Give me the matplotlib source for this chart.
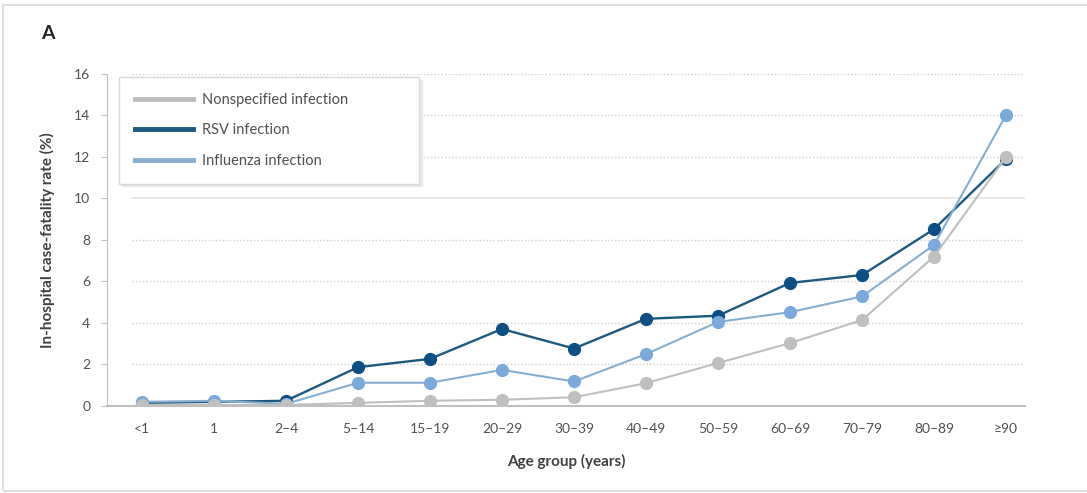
import matplotlib
matplotlib.use("Agg")
import matplotlib.pyplot as plt
from matplotlib.lines import Line2D
from matplotlib.patches import Rectangle

plt.rcParams["font.family"] = ["Lato", "DejaVu Sans"]

# Age groups and in-hospital case-fatality rates (%)
age_groups = ["<1", "1", "2\u20134", "5\u201314", "15\u201319", "20\u201329", "30\u201339",
              "40\u201349", "50\u201359", "60\u201369", "70\u201379", "80\u201389", "\u226590"]
cfr_nonspecified = [0.05, 0.05, 0.05, 0.15, 0.25, 0.3, 0.42, 1.1, 2.07, 3.03, 4.14, 7.2, 12.0]
cfr_rsv = [0.15, 0.2, 0.25, 1.87, 2.27, 3.71, 2.77, 4.2, 4.35, 5.93, 6.31, 8.52, 11.9]
cfr_influenza = [0.2, 0.25, 0.1, 1.12, 1.12, 1.74, 1.18, 2.5, 4.05, 4.52, 5.28, 7.76, 14.02]
y_ticks = [0, 2, 4, 6, 8, 10, 12, 14, 16]

C_NONSPEC = "#bfbfbf"
C_RSV_LINE = "#1b5a7e"
C_RSV_MARK = "#0d4f85"
C_FLU_LINE = "#86aed0"
C_FLU_MARK = "#7aaadb"
TXT = "#505050"

fig = plt.figure(figsize=(10.87, 4.93), dpi=100)
ax = fig.add_axes([0.0984, 0.1765, 0.8446, 0.6735])

x = range(len(age_groups))

# gridlines (10 is drawn solid, the rest dotted)
for yv in y_ticks[1:]:
    if yv == 10:
        ax.axhline(yv, xmin=0.027, xmax=1, color="#e3e3e3", lw=1.2, zorder=0)
    else:
        ax.axhline(yv, xmin=0.027, xmax=1, color="#cfcfcf", lw=1.0,
                   linestyle=(0, (1, 1.5)), zorder=0)

ax.plot(x, cfr_rsv, color=C_RSV_LINE, lw=1.7, marker="o", markersize=8.5,
        markerfacecolor=C_RSV_MARK, markeredgecolor=C_RSV_MARK, zorder=3)
ax.plot(x, cfr_influenza, color=C_FLU_LINE, lw=1.5, marker="o", markersize=8.5,
        markerfacecolor=C_FLU_MARK, markeredgecolor=C_FLU_MARK, zorder=4)
ax.plot(x, cfr_nonspecified, color=C_NONSPEC, lw=1.5, marker="o", markersize=8.5,
        markerfacecolor=C_NONSPEC, markeredgecolor=C_NONSPEC, zorder=5)

ax.set_xlim(-0.486, 12.264)
ax.set_ylim(0, 16)
ax.set_xticks(list(x))
ax.set_xticklabels(age_groups)
ax.set_yticks(y_ticks)

for side in ["top", "right"]:
    ax.spines[side].set_visible(False)
ax.spines["left"].set_color("#bfbfbf")
ax.spines["left"].set_linewidth(0.8)
ax.spines["bottom"].set_color("#bfbfbf")
ax.spines["bottom"].set_linewidth(1.5)

ax.tick_params(axis="x", length=0, pad=12, labelsize=10, labelcolor=TXT)
ax.tick_params(axis="y", length=4, width=0.8, color="#bfbfbf", pad=8,
               labelsize=10, labelcolor=TXT)

ax.set_xlabel("Age group (years)", fontsize=11, fontweight="bold", color="#404040", labelpad=14)
ax.set_ylabel("In-hospital case-fatality rate (%)", fontsize=11, fontweight="bold",
              color="#404040", labelpad=14)

handles = [
    Line2D([0], [0], color=C_NONSPEC, lw=3.5),
    Line2D([0], [0], color=C_RSV_LINE, lw=3.5),
    Line2D([0], [0], color=C_FLU_LINE, lw=3.5),
]
labels = ["Nonspecified infection", "RSV infection", "Influenza infection"]
leg = ax.legend(handles, labels, loc="upper left", bbox_to_anchor=(0.013, 0.991, 0.327, 0.0),
                mode="expand", borderaxespad=0, fontsize=10.5, handlelength=4.0,
                handletextpad=0.6, labelspacing=1.12, borderpad=1.1, fancybox=False,
                framealpha=1, edgecolor="#d9d9d9",
                shadow={"color": "#e6e6e6", "alpha": 0.8, "ox": 2, "oy": -2})
for t in leg.get_texts():
    t.set_color(TXT)
leg.set_zorder(6)

fig.text(0.044, 0.933, "A", fontsize=14, fontweight="bold", color="#262626",
         ha="center", va="center")

# outer panel frame
fig.patches.append(Rectangle((3 / 1087, 2 / 493), 1.1, 486 / 493, transform=fig.transFigure,
                             fill=False, edgecolor="#d9d9d9", lw=1.2, figure=fig))

fig.savefig("out.png", dpi=100)
